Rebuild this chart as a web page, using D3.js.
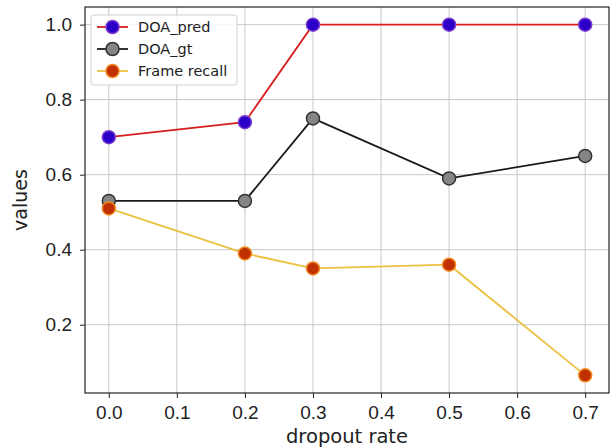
<!DOCTYPE html>
<html>
<head>
<meta charset="utf-8">
<script src="https://cdn.jsdelivr.net/npm/d3@7"></script>
<style>
  body { margin: 0; background: #fff; }
  svg { font-family: "DejaVu Sans", sans-serif; }
  .grid line { stroke: #c8c8c8; stroke-width: 1; }
  .axis text { font-size: 19px; fill: #222; }
  .axis path, .axis line { stroke: #222; }
</style>
</head>
<body>
<svg width="616" height="448"></svg>
<script>
// dropout rates on the x axis
var rates = [0.0, 0.2, 0.3, 0.5, 0.7];

// series values
var doaPred = [0.70, 0.74, 1.00, 1.00, 1.00];
var doaGt = [0.53, 0.53, 0.75, 0.59, 0.65];
var frameRecall = [0.51, 0.39, 0.35, 0.36, 0.065];

// tick labels
var xTicks = [0.0, 0.1, 0.2, 0.3, 0.4, 0.5, 0.6, 0.7];
var yTicks = [0.2, 0.4, 0.6, 0.8, 1.0];

var seriesNames = ["DOA_pred", "DOA_gt", "Frame recall"];

var svg = d3.select("svg"),
    margin = {top: 7, right: 7, bottom: 55, left: 85},
    width = 616 - margin.left - margin.right,
    height = 448 - margin.top - margin.bottom;

var g = svg.append("g")
    .attr("transform", "translate(" + margin.left + "," + margin.top + ")");

// matplotlib style 5% padding on both axes
var x_scale = d3.scaleLinear()
    .domain([-0.035, 0.735])
    .range([0, width]);

var y_scale = d3.scaleLinear()
    .domain([0.018, 1.047])
    .range([height, 0]);

// grid
g.append("g").attr("class", "grid")
  .selectAll("line.v")
  .data(xTicks)
  .enter().append("line")
    .attr("x1", function(d) { return x_scale(d); })
    .attr("x2", function(d) { return x_scale(d); })
    .attr("y1", 0)
    .attr("y2", height);

g.append("g").attr("class", "grid")
  .selectAll("line.h")
  .data(yTicks)
  .enter().append("line")
    .attr("x1", 0)
    .attr("x2", width)
    .attr("y1", function(d) { return y_scale(d); })
    .attr("y2", function(d) { return y_scale(d); });

// axes
var xAxis = d3.axisBottom(x_scale)
    .tickValues(xTicks)
    .tickSize(5)
    .tickPadding(8)
    .tickFormat(d3.format(".1f"));

var yAxis = d3.axisLeft(y_scale)
    .tickValues(yTicks)
    .tickSize(5)
    .tickPadding(8)
    .tickFormat(d3.format(".1f"));

g.append("g")
  .attr("class", "axis")
  .attr("transform", "translate(0," + height + ")")
  .call(xAxis)
  .select(".domain").remove();

g.append("g")
  .attr("class", "axis")
  .call(yAxis)
  .select(".domain").remove();

// frame around plot
g.append("rect")
  .attr("width", width)
  .attr("height", height)
  .attr("fill", "none")
  .attr("stroke", "#222")
  .attr("stroke-width", 1.2);

// axis labels
svg.append("text")
  .attr("x", margin.left + width / 2)
  .attr("y", 443)
  .attr("text-anchor", "middle")
  .attr("font-size", 19.5)
  .attr("fill", "#222")
  .text("dropout rate");

svg.append("text")
  .attr("transform", "rotate(-90)")
  .attr("x", -(margin.top + height / 2))
  .attr("y", 27)
  .attr("text-anchor", "middle")
  .attr("font-size", 19)
  .attr("fill", "#222")
  .text("values");

// series styles
var styles = [
  {line: "#d81e1e", fill: "#2a00c8", edge: "#7a3ad0", values: doaPred},
  {line: "#1a1a1a", fill: "#858585", edge: "#333333", values: doaGt},
  {line: "#ecc040", fill: "#c03000", edge: "#f08a20", values: frameRecall}
];

var line = d3.line()
    .x(function(d) { return x_scale(d.x); })
    .y(function(d) { return y_scale(d.y); });

styles.forEach(function(s) {
  var pts = rates.map(function(r, i) { return {x: r, y: s.values[i]}; });

  g.append("path")
    .datum(pts)
    .attr("fill", "none")
    .attr("stroke", s.line)
    .attr("stroke-width", 1.8)
    .attr("d", line);

  g.selectAll(null)
    .data(pts)
    .enter().append("circle")
      .attr("cx", function(d) { return x_scale(d.x); })
      .attr("cy", function(d) { return y_scale(d.y); })
      .attr("r", 6.5)
      .attr("fill", s.fill)
      .attr("stroke", s.edge)
      .attr("stroke-width", 1.5);
});

// legend
var legend = svg.append("g")
  .attr("transform", "translate(91,15)");

legend.append("rect")
  .attr("width", 146)
  .attr("height", 70)
  .attr("rx", 3)
  .attr("fill", "#fff")
  .attr("fill-opacity", 0.85)
  .attr("stroke", "#d0d0d0");

styles.forEach(function(s, i) {
  var y = 12 + i * 22;
  legend.append("line")
    .attr("x1", 6).attr("x2", 37)
    .attr("y1", y).attr("y2", y)
    .attr("stroke", s.line)
    .attr("stroke-width", 1.8);
  legend.append("circle")
    .attr("cx", 21.5).attr("cy", y)
    .attr("r", 6.5)
    .attr("fill", s.fill)
    .attr("stroke", s.edge)
    .attr("stroke-width", 1.5);
  legend.append("text")
    .attr("x", 47)
    .attr("y", y + 5)
    .attr("font-size", 14.5)
    .attr("fill", "#222")
    .text(seriesNames[i]);
});
</script>
</body>
</html>
